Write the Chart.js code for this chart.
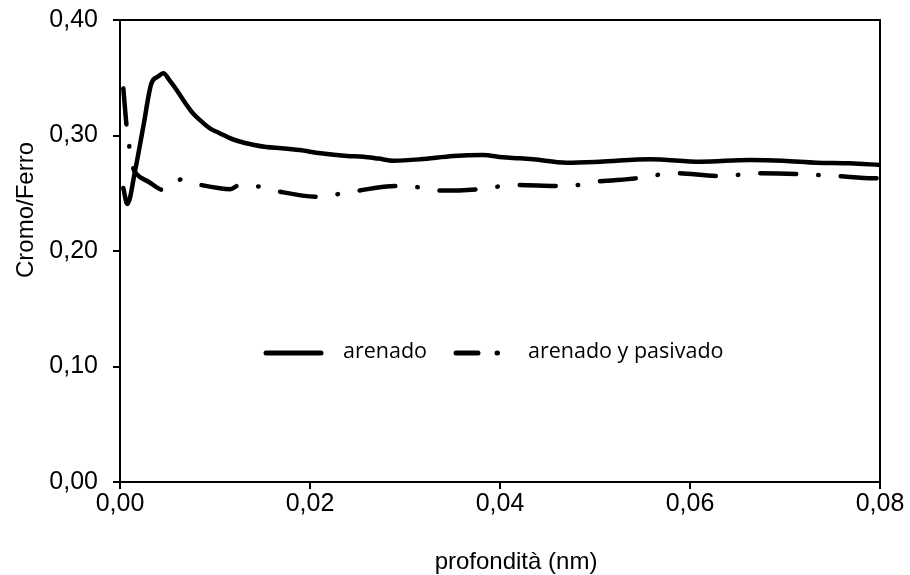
<!DOCTYPE html>
<html>
<head>
<meta charset="utf-8">
<script src="https://cdn.jsdelivr.net/npm/chart.js@4/dist/chart.umd.min.js"></script>
<style>
html,body{margin:0;padding:0;background:#fff;}
#wrap{width:910px;height:575px;position:relative;}
</style>
</head>
<body>
<div id="wrap"><canvas id="c" width="910" height="575"></canvas></div>
<script>
const seriesLabels = ['arenado', 'arenado y pasivado'];
const xTitle = 'profondità (nm)';
const yTitle = 'Cromo/Ferro';
const xTicks = [0, 0.02, 0.04, 0.06, 0.08];
const yTicks = [0, 0.1, 0.2, 0.3, 0.4];

const depthA = [0.00035,0.00077,0.0016,0.00245,0.0033,0.0040,0.00456,0.0052,0.0060,0.0068,0.0077,0.0086,0.0095,0.0105,0.0115,0.0125,0.014,0.0154,0.017,0.0189,0.0211,0.0239,0.0256,0.0272,0.0288,0.0316,0.0351,0.0382,0.0403,0.0421,0.0435,0.047,0.0505,0.0558,0.0611,0.0663,0.0698,0.0733,0.0768,0.08];
const ratioA = [0.2545,0.2407,0.270,0.3076,0.345,0.351,0.3538,0.348,0.339,0.329,0.319,0.312,0.306,0.302,0.298,0.295,0.292,0.290,0.289,0.2874,0.2846,0.2823,0.2817,0.280,0.2782,0.2794,0.2823,0.2831,0.2811,0.2803,0.2794,0.2765,0.2773,0.2794,0.2773,0.2788,0.2782,0.2765,0.2759,0.2745];

const depthB = [0.00035,0.0007,0.001,0.0014,0.0017,0.003,0.0046,0.0055,0.0065,0.0076,0.0086,0.0105,0.0116,0.0126,0.0147,0.0168,0.0207,0.023,0.0251,0.0291,0.0314,0.0335,0.0375,0.0397,0.0419,0.046,0.0481,0.0502,0.0544,0.0565,0.0586,0.0628,0.0649,0.067,0.0712,0.0733,0.0754,0.0793,0.08];
const ratioB = [0.3408,0.3076,0.2894,0.2716,0.267,0.260,0.2528,0.258,0.262,0.259,0.257,0.2543,0.2535,0.2571,0.2557,0.2514,0.247,0.2493,0.2523,0.2563,0.2552,0.2523,0.2534,0.2557,0.2571,0.2563,0.2571,0.26,0.263,0.2658,0.2673,0.265,0.2658,0.2673,0.2667,0.2658,0.265,0.263,0.263];

const toPts = (xs, ys) => xs.map((x, i) => ({x: x, y: ys[i]}));
const fmt = v => v.toFixed(2).replace('.', ',');
const DASHDOT = [36, 22, 0.5, 22];
const AXIS_FONT = '"Liberation Sans", Arial, sans-serif';

const frame = {
  id: 'frame',
  afterDatasetsDraw(chart) {
    const {ctx, chartArea: a} = chart;
    ctx.save();
    ctx.strokeStyle = '#000';
    ctx.lineWidth = 2;
    ctx.strokeRect(a.left, a.top, a.right - a.left, a.bottom - a.top);
    ctx.restore();
  }
};

const axisTitles = {
  id: 'axisTitles',
  afterDraw(chart) {
    const {ctx} = chart;
    ctx.save();
    ctx.fillStyle = '#000';
    ctx.font = '24px ' + AXIS_FONT;
    ctx.textAlign = 'center';
    ctx.textBaseline = 'alphabetic';
    ctx.fillText(xTitle, 516, 569);
    ctx.translate(33, 210);
    ctx.rotate(-Math.PI / 2);
    ctx.fillText(yTitle, 0, 0);
    ctx.restore();
  }
};

const legendInside = {
  id: 'legendInside',
  afterDraw(chart) {
    const {ctx} = chart;
    const y = 353;
    ctx.save();
    ctx.strokeStyle = '#000';
    ctx.lineWidth = 5;
    ctx.lineCap = 'round';
    ctx.beginPath(); ctx.moveTo(266, y); ctx.lineTo(321, y); ctx.stroke();
    ctx.setLineDash([22, 19, 0.5, 200]);
    ctx.beginPath(); ctx.moveTo(456, y); ctx.lineTo(500, y); ctx.stroke();
    ctx.setLineDash([]);
    ctx.fillStyle = '#000';
    ctx.font = '21.5px "Open Sans"';
    ctx.textBaseline = 'middle';
    ctx.textAlign = 'left';
    ctx.fillText(chart.data.datasets[0].label, 343, y - 1);
    ctx.fillText(chart.data.datasets[1].label, 528, y - 1);
    ctx.restore();
  }
};

new Chart(document.getElementById('c'), {
  type: 'scatter',
  data: {
    datasets: [
      {label: seriesLabels[0], data: toPts(depthA, ratioA), showLine: true, borderColor: '#000', borderWidth: 4.5, pointRadius: 0, tension: 0.4, cubicInterpolationMode: 'monotone', borderCapStyle: 'round', borderJoinStyle: 'round'},
      {label: seriesLabels[1], data: toPts(depthB, ratioB), showLine: true, borderColor: '#000', borderWidth: 4.5, pointRadius: 0, tension: 0.4, cubicInterpolationMode: 'monotone', borderDash: DASHDOT, borderCapStyle: 'round', borderJoinStyle: 'round'}
    ]
  },
  options: {
    responsive: false,
    animation: false,
    layout: {padding: {left: 0, right: 30, top: 20, bottom: 0}},
    plugins: {legend: {display: false}, tooltip: {enabled: false}},
    scales: {
      x: {
        type: 'linear', min: 0, max: 0.08,
        afterFit(s) { s.height = 93; s.paddingLeft = 0; s.paddingRight = 0; },
        afterBuildTicks(s) { s.ticks = xTicks.map(v => ({value: v})); },
        ticks: {callback: v => fmt(v), color: '#000', font: {family: AXIS_FONT, size: 25}, padding: 0, maxRotation: 0},
        grid: {drawOnChartArea: false, drawTicks: true, tickLength: 7, color: '#000', lineWidth: 2},
        border: {display: true, color: '#000', width: 2},
        title: {display: false}
      },
      y: {
        type: 'linear', min: 0, max: 0.4,
        afterFit(s) { s.width = 120; s.paddingTop = 0; s.paddingBottom = 0; },
        afterBuildTicks(s) { s.ticks = yTicks.map(v => ({value: v})); },
        ticks: {callback: v => fmt(v), color: '#000', font: {family: AXIS_FONT, size: 25}, padding: 15},
        grid: {drawOnChartArea: false, drawTicks: true, tickLength: 7, color: '#000', lineWidth: 2},
        border: {display: true, color: '#000', width: 2},
        title: {display: false}
      }
    }
  },
  plugins: [frame, axisTitles, legendInside]
});
</script>
</body>
</html>
